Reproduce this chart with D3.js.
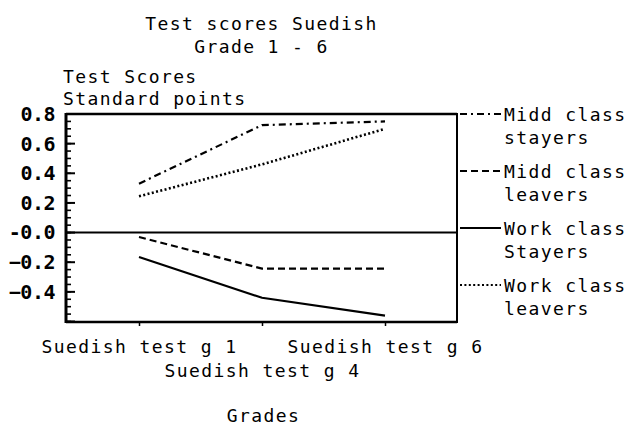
<!DOCTYPE html>
<html>
<head>
<meta charset="utf-8">
<script src="https://cdn.jsdelivr.net/npm/d3@7"></script>
<style>
  html, body { margin: 0; padding: 0; background: #fff; }
  svg { display: block; }
  text { font-family: "DejaVu Sans Mono", monospace; fill: #000; }
</style>
</head>
<body>
<svg id="chart" width="631" height="430"></svg>
<script>
// ---- data ----
const categories = ["Suedish test g 1", "Suedish test g 4", "Suedish test g 6"];
const seriesNames = ["Midd class stayers", "Midd class leavers", "Work class Stayers", "Work class leavers"];
const legendLines = [["Midd class", "stayers"], ["Midd class", "leavers"], ["Work class", "Stayers"], ["Work class", "leavers"]];
const middStayers = [0.33, 0.725, 0.75];
const middLeavers = [-0.03, -0.243, -0.243];
const workStayers = [-0.165, -0.44, -0.56];
const workLeavers = [0.245, 0.46, 0.70];
const yTickValues = [0.8, 0.6, 0.4, 0.2, 0.0, -0.2, -0.4];
const titleLines = ["Test scores Suedish", "Grade 1 - 6"];
const yTitleLines = ["Test Scores", "Standard points"];
const xTitle = "Grades";

const seriesValues = [middStayers, middLeavers, workStayers, workLeavers];
const dashes = ["7,4,2,4", "7,4", null, "2,2.4"];

// ---- layout ----
const svg = d3.select("#chart");
const L = 66, R = 457, T = 114, B = 322;
const x = d3.scalePoint().domain(categories).range([139, 385]);
const y = d3.scaleLinear().domain([-0.6, 0.8]).range([B - 0.5, T]);

const ls = "1.4px";
const fs = 18;

// titles
svg.selectAll(".title").data(titleLines).join("text")
  .attr("x", (L + R) / 2).attr("y", (d, i) => 30 + i * 22.5)
  .attr("text-anchor", "middle").attr("font-size", fs).style("letter-spacing", ls)
  .text(d => d);

svg.selectAll(".ytitle").data(yTitleLines).join("text")
  .attr("x", 63).attr("y", (d, i) => 83 + i * 22)
  .attr("font-size", fs).style("letter-spacing", ls)
  .text(d => d);

// y axis: minor ticks
const minor = d3.range(-12, 17).map(k => k * 0.05).filter(v => Math.abs(Math.round(v * 10) % 2) === 1 || Math.abs(Math.round(v*100)) % 20 !== 0);
svg.append("g").selectAll("line").data(d3.range(-12, 17).map(k => +(k * 0.05).toFixed(2))).join("line")
  .attr("x1", L).attr("x2", L + 5)
  .attr("y1", d => y(d)).attr("y2", d => y(d))
  .attr("stroke", "#000").attr("stroke-width", 1.6);

// y axis major + labels
const yAxis = d3.axisLeft(y).tickValues(yTickValues).tickSize(0).tickPadding(11)
  .tickFormat(d => (d === 0 ? "-0.0" : d3.format(".1f")(d)));
const gy = svg.append("g").attr("transform", `translate(${L},0)`).call(yAxis);
gy.select(".domain").remove();
gy.selectAll("text").attr("font-family", "DejaVu Sans Mono").attr("font-size", 20)
  .attr("font-weight", "bold").style("letter-spacing", "-0.5px");
svg.append("g").selectAll("line").data(yTickValues.concat([-0.6])).join("line")
  .attr("x1", L).attr("x2", L + 9)
  .attr("y1", d => y(d)).attr("y2", d => y(d))
  .attr("stroke", "#000").attr("stroke-width", 2);

// x axis
const xAxis = d3.axisBottom(x).tickSize(4).tickSizeOuter(0);
const gx = svg.append("g").attr("transform", `translate(0,${B})`).call(xAxis);
gx.select(".domain").remove();
gx.selectAll("line").attr("stroke-width", 1.5);
gx.selectAll("text")
  .attr("font-family", "DejaVu Sans Mono").attr("font-size", fs)
  .style("letter-spacing", ls)
  .attr("dy", 0)
  .attr("y", (d, i) => (i === 1 ? 55 : 31));

svg.append("text").attr("x", (L + R) / 2 + 2).attr("y", 422)
  .attr("text-anchor", "middle").attr("font-size", fs).style("letter-spacing", ls)
  .text(xTitle);

// frame
svg.append("line").attr("x1", L).attr("x2", R).attr("y1", T).attr("y2", T).attr("stroke", "#000").attr("stroke-width", 2.5);
svg.append("line").attr("x1", L).attr("x2", R).attr("y1", B).attr("y2", B).attr("stroke", "#000").attr("stroke-width", 2.5);
svg.append("line").attr("x1", L).attr("x2", L).attr("y1", T - 1).attr("y2", B + 1).attr("stroke", "#000").attr("stroke-width", 3);
svg.append("line").attr("x1", R).attr("x2", R).attr("y1", T - 1).attr("y2", B + 1).attr("stroke", "#000").attr("stroke-width", 2);
// zero line
svg.append("line").attr("x1", L).attr("x2", R).attr("y1", y(0)).attr("y2", y(0)).attr("stroke", "#000").attr("stroke-width", 2);

// series
const line = d3.line().x((d, i) => x(categories[i])).y(d => y(d));
svg.append("g").selectAll("path").data(seriesValues).join("path")
  .attr("d", d => line(d))
  .attr("fill", "none").attr("stroke", "#000")
  .attr("stroke-width", (d, i) => (i === 3 ? 2.6 : 2.2))
  .attr("stroke-dasharray", (d, i) => dashes[i]);

// legend
const lg = svg.append("g").selectAll("g").data(seriesNames).join("g")
  .attr("transform", (d, i) => `translate(0,${114 + i * 57})`);
lg.append("line").attr("x1", 460).attr("x2", 501).attr("y1", 0).attr("y2", 0)
  .attr("stroke", "#000").attr("stroke-width", 2)
  .attr("stroke-dasharray", (d, i) => dashes[i]);
lg.each(function (d, i) {
  d3.select(this).selectAll("text").data(legendLines[i]).join("text")
    .attr("x", 504).attr("y", (t, j) => 7 + j * 23)
    .attr("font-size", fs).style("letter-spacing", ls)
    .text(t => t);
});
</script>
</body>
</html>
